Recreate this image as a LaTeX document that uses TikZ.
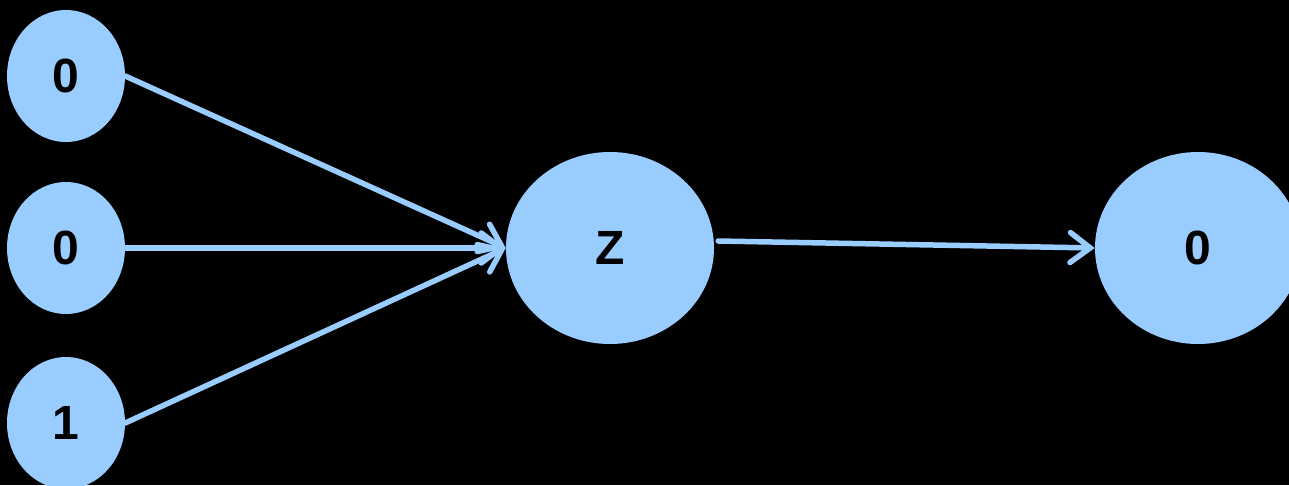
\documentclass[tikz,border=0pt]{standalone}
\usepackage{fontspec}
\setmainfont{Liberation Sans}
\usetikzlibrary{shapes.geometric,arrows.meta}
\definecolor{nodeblue}{HTML}{99CCFF}
\begin{document}
\begin{tikzpicture}[
    x=1pt, y=-1pt,
    mynode/.style={ellipse, fill=nodeblue, inner sep=0pt, font=\fontsize{48}{52}\selectfont\bfseries},
    myedge/.style={-{Straight Barb[length=20pt, width=30pt, line cap=round]}, draw=nodeblue, line width=5.5pt, line cap=round}
]
    \fill[black] (0,0) rectangle (1289,485);
    \useasboundingbox (0,0) rectangle (1289,485);

    % input layer
    \node[mynode, minimum width=118pt, minimum height=132pt] (X1) at (66, 76) {0};
    \node[mynode, minimum width=118pt, minimum height=132pt] (X2) at (66, 248) {0};
    \node[mynode, minimum width=118pt, minimum height=132pt] (X3) at (66, 423) {1};

    % hidden unit and output
    \node[mynode, minimum width=208pt, minimum height=192pt] (Z) at (610, 248) {Z};
    \node[mynode, minimum width=206pt, minimum height=192pt] (Out) at (1198, 248) {0};

    \draw[myedge] (X1.east) -- (Z.west);
    \draw[myedge] (X2.east) -- (Z.west);
    \draw[myedge] (X3.east) -- (Z.west);
    \draw[myedge] ([shift={(4,-7)}]Z.east) -- (Out.west);
\end{tikzpicture}
\end{document}
